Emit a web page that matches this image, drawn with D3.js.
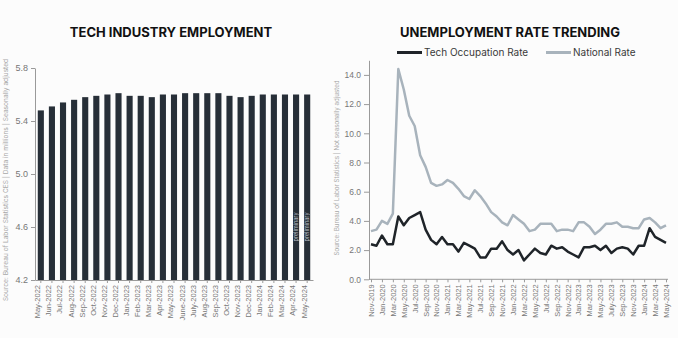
<!DOCTYPE html>
<html><head><meta charset="utf-8">
<script src="https://cdn.jsdelivr.net/npm/d3@7"></script>
<style>
html,body{margin:0;padding:0;background:#fcfcfc;}
svg{display:block;font-family:Inter,"Liberation Sans",sans-serif;}
</style></head><body>
<svg id="c" width="678" height="338"></svg>
<script>
// ---------- DATA ----------
const empMonths = ["May-2022","Jun-2022","Jul-2022","Aug-2022","Sep-2022","Oct-2022","Nov-2022","Dec-2022","Jan-2023","Feb-2023","Mar-2023","Apr-2023","May-2023","June-2023","July-2023","Aug-2023","Sep-2023","Oct-2023","Nov-2023","Dec-2023","Jan-2024","Feb-2024","Mar-2024","Apr-2024","May-2024"];
const empValues = [5.48,5.51,5.54,5.56,5.58,5.59,5.60,5.61,5.59,5.59,5.58,5.60,5.60,5.61,5.61,5.61,5.61,5.59,5.58,5.59,5.60,5.60,5.60,5.60,5.60];
const empTicks = [4.2,4.6,5.0,5.4,5.8];
const preliminaryMonths = ["Apr-2024","May-2024"];

const rateMonths = ["Nov-2019","Dec-2019","Jan-2020","Feb-2020","Mar-2020","Apr-2020","May-2020","Jun-2020","Jul-2020","Aug-2020","Sep-2020","Oct-2020","Nov-2020","Dec-2020","Jan-2021","Feb-2021","Mar-2021","Apr-2021","May-2021","Jun-2021","Jul-2021","Aug-2021","Sep-2021","Oct-2021","Nov-2021","Dec-2021","Jan-2022","Feb-2022","Mar-2022","Apr-2022","May-2022","Jun-2022","Jul-2022","Aug-2022","Sep-2022","Oct-2022","Nov-2022","Dec-2022","Jan-2023","Feb-2023","Mar-2023","Apr-2023","May-2023","Jun-2023","July-2023","Aug-2023","Sep-2023","Oct-2023","Nov-2023","Dec-2023","Jan-2024","Feb-2024","Mar-2024","Apr-2024","May-2024"];
const techRate = [2.4,2.3,3.0,2.4,2.4,4.3,3.7,4.2,4.4,4.6,3.4,2.7,2.4,2.9,2.4,2.4,1.9,2.5,2.3,2.1,1.5,1.5,2.1,2.1,2.6,2.0,1.7,2.0,1.3,1.7,2.1,1.8,1.7,2.3,2.1,2.2,1.9,1.7,1.5,2.2,2.2,2.3,2.0,2.3,1.8,2.1,2.2,2.1,1.7,2.3,2.3,3.5,2.9,2.7,2.5];
const nationalRate = [3.3,3.4,4.0,3.8,4.5,14.4,13.0,11.2,10.5,8.5,7.7,6.6,6.4,6.5,6.8,6.6,6.2,5.7,5.5,6.1,5.7,5.2,4.6,4.3,3.9,3.7,4.4,4.1,3.8,3.3,3.4,3.8,3.8,3.8,3.3,3.4,3.4,3.3,3.9,3.9,3.6,3.1,3.4,3.8,3.8,3.9,3.6,3.6,3.5,3.5,4.1,4.2,3.9,3.5,3.7];
const rateTicks = [0,2,4,6,8,10,12,14];
const seriesNames = ["Tech Occupation Rate","National Rate"];

// ---------- STYLE ----------
const barColor = "#272f38", techColor = "#1f2429", natColor = "#a8b3bc";
const axisColor = "#9a9a9a", labelColor = "#777";

const svg = d3.select("#c");

function styleAxis(g){
  g.selectAll("path,line").attr("stroke", axisColor);
  g.selectAll("text").attr("fill", labelColor).style("font-size","8.5px");
}

// ---------- LEFT CHART ----------
svg.append("text").attr("x",171).attr("y",37).attr("text-anchor","middle")
  .style("font-size","13px").style("font-weight","700").attr("fill","#111")
  .text("TECH INDUSTRY EMPLOYMENT");

const xb = d3.scaleBand().domain(empMonths).range([35,313]).paddingInner(0.45).paddingOuter(0.25);
const yb = d3.scaleLinear().domain([4.2,5.8]).range([280,68]);

svg.append("g").selectAll("rect").data(empValues).join("rect")
  .attr("x",(d,i)=>xb(empMonths[i])).attr("width",xb.bandwidth())
  .attr("y",d=>yb(d)).attr("height",d=>yb(4.2)-yb(d)).attr("fill",barColor);

svg.append("g").selectAll("text").data(preliminaryMonths).join("text")
  .attr("transform",d=>`translate(${xb(d)+xb.bandwidth()/2+2},${yb(4.6)}) rotate(-90)`)
  .attr("text-anchor","middle").style("font-size","5.5px").attr("fill","#b9bec4")
  .text("preliminary");

const gyl = svg.append("g").attr("transform","translate(35,0)")
  .call(d3.axisLeft(yb).tickValues(empTicks).tickFormat(d3.format(".1f")).tickSize(4).tickSizeOuter(0));
styleAxis(gyl);
gyl.selectAll("text").style("font-size","9px");

const gxl = svg.append("g").attr("transform","translate(0,280)")
  .call(d3.axisBottom(xb).tickSize(3).tickSizeOuter(0));
styleAxis(gxl);
gxl.selectAll("text").attr("transform","rotate(-90)").attr("text-anchor","end")
  .attr("x",-5).attr("y",-3).attr("dy","0.32em").style("font-size","7.5px");

svg.append("text").attr("transform","translate(8,180) rotate(-90)").attr("text-anchor","middle")
  .style("font-size","6.6px").attr("fill","#a8a8a8")
  .text("Source: Bureau of Labor Statistics CES | Data in millions | Seasonally adjusted");

// ---------- RIGHT CHART ----------
svg.append("text").attr("x",510).attr("y",37).attr("text-anchor","middle")
  .style("font-size","13px").style("font-weight","700").attr("fill","#111")
  .text("UNEMPLOYMENT RATE TRENDING");

const xr = d3.scalePoint().domain(rateMonths).range([371,666]);
const yr = d3.scaleLinear().domain([0,15]).range([279.3,60.3]);

const gyr = svg.append("g").attr("transform","translate(369,0)")
  .call(d3.axisLeft(yr).tickValues(rateTicks).tickFormat(d3.format(".1f")).tickSize(5).tickSizeOuter(0));
styleAxis(gyr);

const gxr = svg.append("g").attr("transform","translate(0,279.3)")
  .call(d3.axisBottom(xr).tickValues(rateMonths.filter((d,i)=>i%2===0)).tickSize(3).tickSizeOuter(0));
styleAxis(gxr);
gxr.select(".domain").attr("d","M369,0H668");
gxr.selectAll("text").attr("transform","rotate(-90)").attr("text-anchor","end")
  .attr("x",-5).attr("y",0).attr("dy","0.32em").style("font-size","7.5px");

const line = d3.line().x((d,i)=>xr(rateMonths[i])).y(d=>yr(d)).curve(d3.curveLinear);
svg.append("path").datum(nationalRate).attr("d",line).attr("fill","none")
  .attr("stroke",natColor).attr("stroke-width",2.5).attr("stroke-linejoin","round");
svg.append("path").datum(techRate).attr("d",line).attr("fill","none")
  .attr("stroke",techColor).attr("stroke-width",2.5).attr("stroke-linejoin","round");

// legend
const leg = svg.append("g");
const legItems = [{name:seriesNames[0],color:techColor,x:397},{name:seriesNames[1],color:natColor,x:546}];
legItems.forEach(it=>{
  leg.append("line").attr("x1",it.x).attr("x2",it.x+25).attr("y1",52.5).attr("y2",52.5)
    .attr("stroke",it.color).attr("stroke-width",3);
  leg.append("text").attr("x",it.x+27).attr("y",52.5).attr("dy","0.35em")
    .style("font-size","10px").attr("fill","#3a3a3a").text(it.name);
});

svg.append("text").attr("transform","translate(339,168) rotate(-90)").attr("text-anchor","middle")
  .style("font-size","6.2px").attr("fill","#a8a8a8")
  .text("Source: Bureau of Labor Statistics | Not seasonally adjusted");
</script>
</body></html>
